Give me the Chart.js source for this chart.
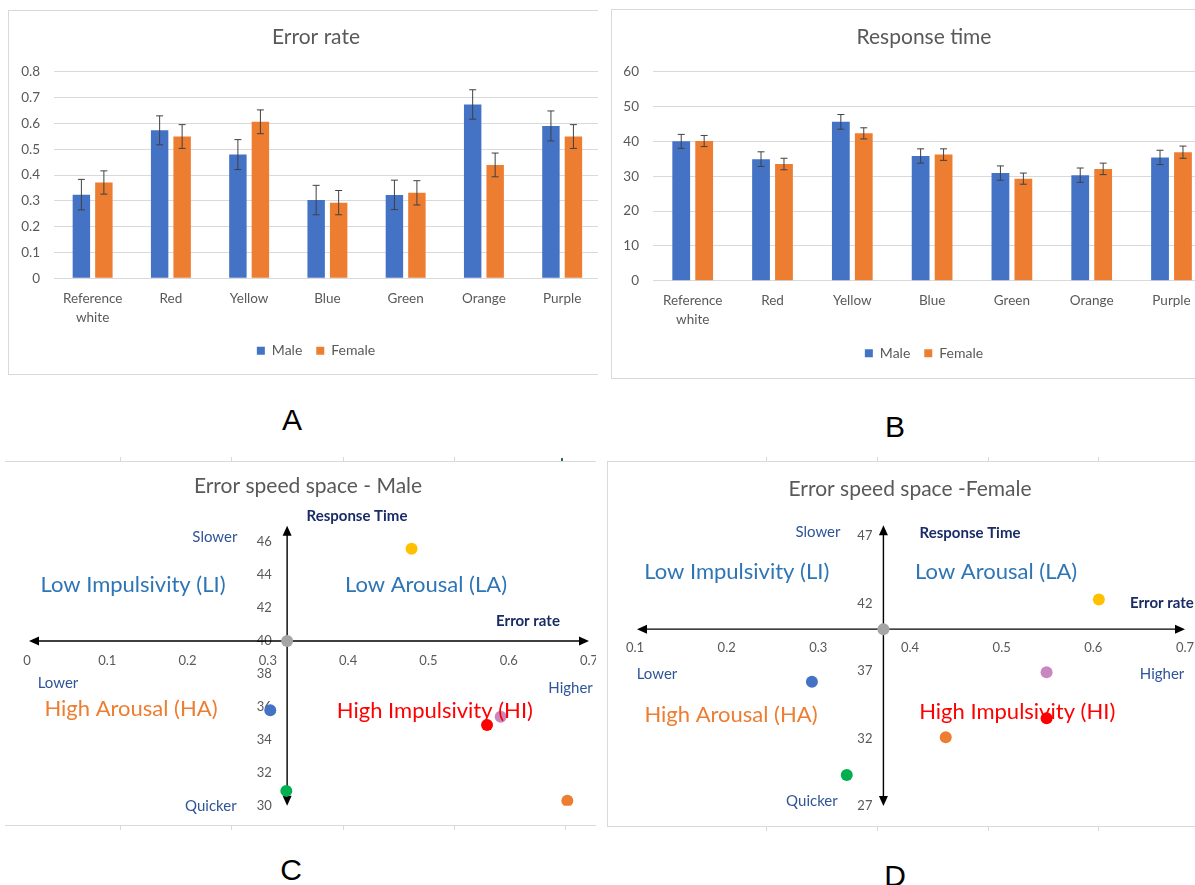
<!DOCTYPE html>
<html>
<head>
<meta charset="utf-8">
<script src="https://cdn.jsdelivr.net/npm/chart.js@4.4.1/dist/chart.umd.min.js"></script>
<style>
  body { margin: 0; background: #fff; }
  #page { position: relative; width: 1195px; height: 885px; overflow: hidden; background: #fff; }
  .panel { position: absolute; overflow: hidden; box-sizing: border-box; border: 0 solid #d9d9d9; }
  .panel canvas { position: absolute; top: 0; left: 0; }
  .letter { position: absolute; font: 30px "Liberation Sans", Arial, sans-serif; color: #000; transform: translate(-50%, -50%); }
  .tick { position: absolute; width: 1px; height: 4px; background: #d9d9d9; }
</style>
</head>
<body>
<div id="page">
  <div class="panel" style="left:8px;top:10px;width:590px;height:365px;border-width:1px 0 1px 1px;">
    <canvas id="chartA" width="616" height="363"></canvas>
  </div>
  <div class="panel" style="left:611px;top:9px;width:584px;height:370px;border-width:1px 0 1px 1px;">
    <canvas id="chartB" width="640" height="368"></canvas>
  </div>
  <div class="panel" style="left:5px;top:461px;width:591px;height:365px;border-width:1px 0 1px 0;">
    <canvas id="chartC" width="620" height="363" style="left:-5px"></canvas>
  </div>
  <div class="panel" style="left:607px;top:461px;width:588px;height:366px;border-width:1px 0 1px 1px;">
    <canvas id="chartD" width="620" height="364"></canvas>
  </div>

  <!-- sheet cell marks around the scatter panels -->
  <div class="tick" style="left:120px;top:457px"></div>
  <div class="tick" style="left:231px;top:457px"></div>
  <div class="tick" style="left:343px;top:457px"></div>
  <div class="tick" style="left:454px;top:457px"></div>
  <div class="tick" style="left:561px;top:458px;width:2px;height:3px;background:#2e6b47"></div>
  <div class="tick" style="left:120px;top:826px"></div>
  <div class="tick" style="left:231px;top:826px"></div>
  <div class="tick" style="left:343px;top:826px"></div>
  <div class="tick" style="left:454px;top:826px"></div>
  <div class="tick" style="left:565px;top:826px"></div>
  <div class="tick" style="left:766px;top:457px"></div>
  <div class="tick" style="left:877px;top:457px"></div>
  <div class="tick" style="left:988px;top:457px"></div>
  <div class="tick" style="left:1098px;top:457px"></div>
  <div class="tick" style="left:766px;top:827px"></div>
  <div class="tick" style="left:877px;top:827px"></div>
  <div class="tick" style="left:988px;top:827px"></div>
  <div class="tick" style="left:1098px;top:827px"></div>

  <div class="letter" style="left:292px;top:420px">A</div>
  <div class="letter" style="left:895px;top:427px">B</div>
  <div class="letter" style="left:291px;top:870px">C</div>
  <div class="letter" style="left:895px;top:876px">D</div>
</div>

<script>
// data
const categories = [["Reference", "white"], "Red", "Yellow", "Blue", "Green", "Orange", "Purple"];
const maleError = [0.324, 0.573, 0.479, 0.303, 0.323, 0.673, 0.590];
const femaleError = [0.371, 0.549, 0.606, 0.293, 0.331, 0.439, 0.549];
const maleErrorSE = [0.059, 0.056, 0.058, 0.057, 0.057, 0.057, 0.058];
const femaleErrorSE = [0.045, 0.046, 0.046, 0.047, 0.047, 0.046, 0.046];
const maleRT = [40.0, 34.9, 45.6, 35.8, 30.9, 30.3, 35.4];
const femaleRT = [40.1, 33.5, 42.3, 36.2, 29.3, 32.1, 36.9];
const maleRTSE = [2.0, 2.1, 2.1, 2.05, 2.05, 2.05, 2.05];
const femaleRTSE = [1.6, 1.65, 1.6, 1.65, 1.6, 1.65, 1.75];

const maleErrorTicks = [0, 0.1, 0.2, 0.3, 0.4, 0.5, 0.6, 0.7];
const maleRTTicks = [30, 32, 34, 36, 38, 40, 42, 44, 46];
const femaleErrorTicks = [0.1, 0.2, 0.3, 0.4, 0.5, 0.6, 0.7];
const femaleRTTicks = [27, 32, 37, 42, 47];

const pointColors = ["#a5a5a5", "#ff0000", "#ffc000", "#4472c4", "#00b050", "#ed7d31", "#c987bf"];

Chart.defaults.font.family = "Lato";
Chart.defaults.color = "#595959";
Chart.defaults.animation = false;

const MALE = "#4472c4";
const FEMALE = "#ed7d31";

// error bars on top of each bar
const errorBars = {
  id: "errorBars",
  afterDatasetsDraw(chart) {
    const { ctx } = chart;
    const y = chart.scales.y;
    ctx.save();
    ctx.strokeStyle = "#404040";
    ctx.lineWidth = 1;
    chart.data.datasets.forEach((ds, di) => {
      chart.getDatasetMeta(di).data.forEach((bar, i) => {
        const top = y.getPixelForValue(ds.data[i] + ds.errors[i]);
        const bot = y.getPixelForValue(ds.data[i] - ds.errors[i]);
        ctx.beginPath();
        ctx.moveTo(bar.x, top); ctx.lineTo(bar.x, bot);
        ctx.moveTo(bar.x - 3.5, top); ctx.lineTo(bar.x + 3.5, top);
        ctx.moveTo(bar.x - 3.5, bot); ctx.lineTo(bar.x + 3.5, bot);
        ctx.stroke();
      });
    });
    ctx.restore();
  }
};

function barChart(id, title, male, maleSE, female, femaleSE, max, step, geo) {
  return new Chart(document.getElementById(id), {
    type: "bar",
    data: {
      labels: categories,
      datasets: [
        { label: "Male", data: male, errors: maleSE, backgroundColor: MALE },
        { label: "Female", data: female, errors: femaleSE, backgroundColor: FEMALE }
      ]
    },
    options: {
      responsive: false,
      devicePixelRatio: 1,
      categoryPercentage: 0.575,
      barPercentage: 0.775,
      layout: { padding: { left: 0, right: geo.padR, top: 0, bottom: geo.padB } },
      scales: {
        x: {
          grid: { display: false, drawTicks: false },
          border: { display: false },
          ticks: { font: { size: 13.5, lineHeight: "19px" }, padding: 10.5, maxRotation: 0, autoSkip: false },
          afterFit: (s) => { s.height = geo.xH; }
        },
        y: {
          min: 0, max: max,
          grid: { color: "#d9d9d9", drawTicks: false },
          border: { display: false },
          ticks: { stepSize: step, font: { size: 13.5 }, padding: geo.tickPad },
          afterFit: (s) => { s.width = geo.yW; }
        },
        // empty right strip: the source chart runs on past the crop
        right: {
          position: "right",
          grid: { display: false, drawTicks: false },
          border: { display: false },
          ticks: { display: false },
          afterFit: (s) => { s.width = geo.rightW; }
        }
      },
      plugins: {
        title: {
          display: true, text: title, color: "#595959",
          font: { size: 21, weight: "normal" },
          padding: { top: geo.titleTop, bottom: geo.titleBottom }
        },
        legend: {
          position: "bottom",
          labels: { boxWidth: 8, boxHeight: 8, padding: 14, font: { size: 14 }, color: "#595959" }
        },
        tooltip: { enabled: false }
      }
    },
    plugins: [errorBars]
  });
}

barChart("chartA", "Error rate", maleError, maleErrorSE, femaleError, femaleErrorSE, 0.8, 0.1,
  { padR: 2, rightW: 21.7, padB: 6.3, yW: 44.5, xH: 51.4, tickPad: 13.5, titleTop: 13.9, titleBottom: 21.6 });
barChart("chartB", "Response time", maleRT, maleRTSE, femaleRT, femaleRTSE, 60, 10,
  { padR: 16, rightW: 24.6, padB: 7.7, yW: 40.8, xH: 51.6, tickPad: 13.8, titleTop: 14.4, titleBottom: 22.1 });

// the two arrowed axes crossing at the reference white point
function arrowHead(ctx, x, y, dx, dy) {
  const L = 10, W = 4.5;
  ctx.beginPath();
  ctx.moveTo(x, y);
  ctx.lineTo(x - dx * L - dy * W, y - dy * L + dx * W);
  ctx.lineTo(x - dx * L + dy * W, y - dy * L - dx * W);
  ctx.closePath();
  ctx.fill();
}

function crossAxes(cx, cy) {
  return {
    id: "crossAxes",
    beforeDatasetsDraw(chart) {
      const { ctx, chartArea: a, scales: { x, y } } = chart;
      const px = x.getPixelForValue(cx), py = y.getPixelForValue(cy);
      ctx.save();
      ctx.strokeStyle = "#000";
      ctx.fillStyle = "#000";
      ctx.lineWidth = 1.4;
      ctx.beginPath();
      ctx.moveTo(a.left + 2 + 8, py); ctx.lineTo(a.right - 8, py);
      ctx.moveTo(px, a.top + 8); ctx.lineTo(px, a.bottom - 8);
      ctx.stroke();
      arrowHead(ctx, a.left + 2, py, -1, 0);
      arrowHead(ctx, a.right, py, 1, 0);
      arrowHead(ctx, px, a.top, 0, -1);
      arrowHead(ctx, px, a.bottom, 0, 1);
      ctx.restore();
    }
  };
}

function notes(list) {
  return {
    id: "notes",
    afterDatasetsDraw(chart) {
      const { ctx, scales: { x, y } } = chart;
      ctx.save();
      ctx.textBaseline = "middle";
      list.forEach((n) => {
        ctx.font = (n.bold ? "bold " : "") + n.size + "px Lato";
        ctx.fillStyle = n.color;
        ctx.textAlign = n.align || "center";
        ctx.fillText(n.text, x.getPixelForValue(n.x), y.getPixelForValue(n.y));
      });
      ctx.restore();
    }
  };
}

const NAVY = "#1a2c66", DARKBLUE = "#2f5597", BLUE = "#2e75b6", ORANGE = "#ed7d31", RED = "#ff0000";

const notesMale = [
  { text: "Response Time", x: 0.411, y: 47.6, size: 15, bold: true, color: NAVY },
  { text: "Slower", x: 0.234, y: 46.34, size: 15, color: DARKBLUE },
  { text: "Low Impulsivity (LI)", x: 0.132, y: 43.41, size: 22, color: BLUE },
  { text: "Low Arousal (LA)", x: 0.497, y: 43.41, size: 22, color: BLUE },
  { text: "Error rate", x: 0.624, y: 41.22, size: 15, bold: true, color: NAVY },
  { text: "Lower", x: 0.0386, y: 37.45, size: 15, color: DARKBLUE },
  { text: "Higher", x: 0.677, y: 37.12, size: 15, color: DARKBLUE },
  { text: "High Arousal (HA)", x: 0.1295, y: 35.87, size: 22, color: ORANGE },
  { text: "High Impulsivity (HI)", x: 0.508, y: 35.75, size: 22, color: RED },
  { text: "Quicker", x: 0.229, y: 30.0, size: 15, color: DARKBLUE }
];

const notesFemale = [
  { text: "Slower", x: 0.2996, y: 47.3, size: 15, color: DARKBLUE },
  { text: "Response Time", x: 0.4655, y: 47.22, size: 15, bold: true, color: NAVY },
  { text: "Low Impulsivity (LI)", x: 0.211, y: 44.33, size: 22, color: BLUE },
  { text: "Low Arousal (LA)", x: 0.494, y: 44.33, size: 22, color: BLUE },
  { text: "Error rate", x: 0.640, y: 42.06, size: 15, bold: true, color: NAVY, align: "left" },
  { text: "Lower", x: 0.124, y: 36.78, size: 15, color: DARKBLUE },
  { text: "Higher", x: 0.675, y: 36.78, size: 15, color: DARKBLUE },
  { text: "High Arousal (HA)", x: 0.2047, y: 33.74, size: 22, color: ORANGE },
  { text: "High Impulsivity (HI)", x: 0.517, y: 34.0, size: 22, color: RED },
  { text: "Quicker", x: 0.293, y: 27.33, size: 15, color: DARKBLUE }
];

function spaceChart(id, title, err, rt, xTicks, yTicks, xr, yr, labelShift, noteList, geo) {
  return new Chart(document.getElementById(id), {
    type: "scatter",
    data: {
      datasets: [{
        data: err.map((e, i) => ({ x: e, y: rt[i] })),
        backgroundColor: pointColors,
        pointRadius: 6,
        pointBorderWidth: 0,
        pointHoverRadius: 6
      }]
    },
    options: {
      responsive: false,
      devicePixelRatio: 1,
      layout: { padding: { left: geo.padL, right: geo.padR, top: 0, bottom: geo.padB } },
      scales: {
        x: {
          type: "linear", min: xr[0], max: xr[1],
          position: { y: rt[0] },
          grid: { display: false, drawTicks: false },
          border: { display: false },
          ticks: { font: { size: 13 }, padding: geo.xPad, maxRotation: 0, autoSkip: false },
          afterBuildTicks: (s) => { s.ticks = xTicks.map((v) => ({ value: v })); }
        },
        y: {
          type: "linear", min: yr[0], max: yr[1],
          position: { x: err[0] - labelShift },
          grid: { display: false, drawTicks: false },
          border: { display: false },
          ticks: { font: { size: 13 }, autoSkip: false },
          afterBuildTicks: (s) => { s.ticks = yTicks.map((v) => ({ value: v })); }
        }
      },
      plugins: {
        title: {
          display: true, text: title, color: "#595959",
          font: { size: 21, weight: "normal" },
          padding: { top: geo.titleTop, bottom: geo.titleBottom }
        },
        legend: { display: false },
        tooltip: { enabled: false }
      }
    },
    plugins: [crossAxes(err[0], rt[0]), notes(noteList)]
  });
}

spaceChart("chartC", "Error speed space - Male", maleError, maleRT, maleErrorTicks, maleRTTicks,
  [0, 0.7], [30, 47], 0.019, notesMale,
  { padL: 27, padR: 31, padB: 19.3, xPad: 12.4, titleTop: 12.1, titleBottom: 26.5 });
spaceChart("chartD", "Error speed space -Female", femaleError, femaleRT, femaleErrorTicks, femaleRTTicks,
  [0.1, 0.7], [27, 47.8], 0.012, notesFemale,
  { padL: 27, padR: 43, padB: 20, xPad: 10.7, titleTop: 14.4, titleBottom: 23.6 });
</script>
</body>
</html>
